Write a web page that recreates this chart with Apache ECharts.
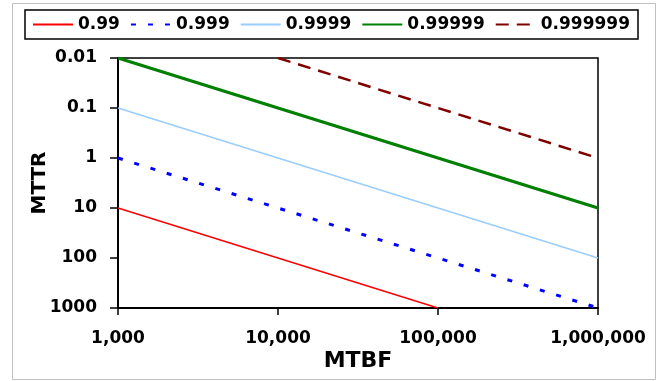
<!DOCTYPE html>
<html>
<head>
<meta charset="utf-8">
<script src="https://cdn.jsdelivr.net/npm/echarts@6/dist/echarts.min.js"></script>
<style>html,body{margin:0;padding:0;background:#fff;}#c{width:660px;height:381px;}</style>
</head>
<body>
<div id="c"></div>
<script>
// MTBF categories (x axis, log scale)
const mtbf = [1000, 10000, 100000, 1000000];
// MTTR values per availability level (null = outside plotted range)
const a099 = [10, 100, 1000, null];
const a0999 = [1, 10, 100, 1000];
const a09999 = [0.1, 1, 10, 100];
const a099999 = [0.01, 0.1, 1, 10];
const a0999999 = [null, 0.01, 0.1, 1];
const seriesNames = ['0.99', '0.999', '0.9999', '0.99999', '0.999999'];
const yTickLabels = ['0.01', '0.1', '1', '10', '100', '1000'];
const xTickLabels = ['1,000', '10,000', '100,000', '1,000,000'];

function pairs(vals) {
  const out = [];
  vals.forEach((v, i) => { if (v !== null) out.push([mtbf[i], v]); });
  return out;
}

const FONT = 'DejaVu Sans';
const chart = echarts.init(document.getElementById('c'), null, {renderer: 'canvas'});
const styles = [
  {color: '#ff0000', width: 1.5, type: 'solid'},
  {color: '#0000ff', width: 3, type: [5, 12]},
  {color: '#99ccff', width: 1.5, type: 'solid'},
  {color: '#008000', width: 3.2, type: 'solid'},
  {color: '#800000', width: 2.5, type: [13, 8]}
];
const datasets = [a099, a0999, a09999, a099999, a0999999];

chart.setOption({
  backgroundColor: '#fff',
  animation: false,
  graphic: [{
    type: 'rect', silent: true, z: -1,
    shape: {x: 12.5, y: 3.5, width: 643, height: 376},
    style: {fill: 'none', stroke: '#c0c0c0', lineWidth: 1}
  }],
  legend: {
    left: 25, top: 10,
    padding: [6, 8, 6, 7],
    borderColor: '#000', borderWidth: 1.5,
    icon: 'inherit',
    itemWidth: 40, itemHeight: 14, itemGap: 10,
    itemStyle: {opacity: 0},
    data: seriesNames,
    textStyle: {fontFamily: FONT, fontWeight: 'bold', fontSize: 17, color: '#000'}
  },
  grid: {
    left: 118, right: 62, top: 58, bottom: 73,
    show: true, borderColor: '#000', borderWidth: 1.5,
    containLabel: false, outerBoundsMode: 'none'
  },
  xAxis: {
    type: 'log', logBase: 10, min: 1000, max: 1000000,
    name: 'MTBF', nameLocation: 'middle', nameGap: 42, nameMoveOverlap: false,
    nameTextStyle: {fontFamily: FONT, fontWeight: 'bold', fontSize: 22, color: '#000'},
    axisLine: {show: true, lineStyle: {color: '#000', width: 2}},
    axisTick: {show: true, length: 7, lineStyle: {color: '#000', width: 1.5}},
    minorTick: {show: false},
    splitLine: {show: false},
    axisLabel: {
      margin: 22, color: '#000', fontFamily: FONT, fontWeight: 'bold', fontSize: 17,
      formatter: function (v) {
        const i = Math.round(Math.log10(v)) - 3;
        return xTickLabels[i] !== undefined ? xTickLabels[i] : '';
      }
    }
  },
  yAxis: {
    type: 'log', logBase: 10, min: 0.01, max: 1000, inverse: true,
    name: 'MTTR', nameLocation: 'middle', nameGap: 68, nameRotate: 90, nameMoveOverlap: false,
    nameTextStyle: {fontFamily: FONT, fontWeight: 'bold', fontSize: 20, color: '#000'},
    axisLine: {show: true, lineStyle: {color: '#000', width: 2}},
    axisTick: {show: true, length: 8, lineStyle: {color: '#000', width: 1.5}},
    minorTick: {show: false},
    splitLine: {show: false},
    axisLabel: {
      margin: 21, color: '#000', fontFamily: FONT, fontWeight: 'bold', fontSize: 17,
      formatter: function (v) {
        const i = Math.round(Math.log10(v)) + 2;
        return yTickLabels[i] !== undefined ? yTickLabels[i] : '';
      }
    }
  },
  series: seriesNames.map((n, k) => ({
    name: n,
    type: 'line',
    data: pairs(datasets[k]),
    showSymbol: false,
    symbol: 'none',
    clip: true,
    color: styles[k].color,
    lineStyle: {color: styles[k].color, width: styles[k].width, type: styles[k].type, cap: 'butt'}
  }))
});
</script>
</body>
</html>
